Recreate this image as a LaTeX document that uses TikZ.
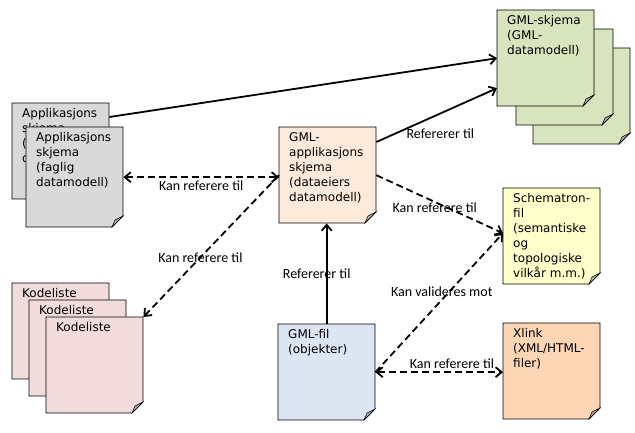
\documentclass[tikz,border=0pt]{standalone}
\usepackage{fontspec}
\setmainfont{DejaVu Sans}
\newfontfamily\lblfont{Carlito}
\usetikzlibrary{arrows.meta,calc}

\definecolor{appgray}{RGB}{217,217,217}
\definecolor{apppeach}{RGB}{253,234,218}
\definecolor{gmlgreen}{RGB}{215,228,189}
\definecolor{schemyellow}{RGB}{255,255,204}
\definecolor{kodepink}{RGB}{242,220,219}
\definecolor{filblue}{RGB}{220,230,242}
\definecolor{xlinkorange}{RGB}{252,213,181}

\tikzset{
  >={Straight Barb[length=6pt,width=10pt]},
  noteline/.style={draw=black, line width=0.8pt},
  notetext/.style={anchor=north west, inner xsep=10pt, inner ysep=5pt, minimum width=97pt, font=\fontsize{12}{15}\selectfont},
  refline/.style={line width=1.8pt, ->},
  maybe/.style={line width=1.8pt, dash pattern=on 7pt off 4pt},
  lbl/.style={font=\lblfont\fontsize{14}{15}\selectfont, inner sep=1pt},
}

% note sheet with folded corner: name, top left, fill, height, text
\newcommand{\docnote}[5]{%
  \draw[noteline, fill=#3] (#2) -- ++(97,0) -- ++(0,-#4+11) -- ++(-11,-11) -- ++(-86,0) -- cycle;
  \filldraw[noteline, line width=0.5pt, fill=#3!45!gray] ($(#2)+(86,-#4)$) .. controls ($(#2)+(88,-#4+4)$) .. ($(#2)+(89,-#4+7)$) -- ($(#2)+(97,-#4+11)$) -- cycle;
  \node[notetext, minimum height=#4pt] (#1) at (#2) {\parbox[t][\dimexpr#4pt-10pt\relax][t]{77pt}{\raggedright #5}};
}

\begin{document}
\begin{tikzpicture}[x=1pt,y=1pt]
        \useasboundingbox (0,0) rectangle (635,433);
        % Applikasjonsskjema
        \docnote{appB}{12,330}{appgray}{96}{Applikasjons\\skjema\\(faglig\\datamodell)}
        \docnote{appF}{26,306}{appgray}{100}{Applikasjons\\skjema\\(faglig\\datamodell)}
        % GML-applikasjonsskjema
        \docnote{gmlapp}{279,306}{apppeach}{96}{GML-\\applikasjons\\skjema\\(dataeiers\\datamodell)}
        % GML-skjema (stack)
        \docnote{gmlC}{533,385}{gmlgreen}{96}{}
        \docnote{gmlB}{516,404}{gmlgreen}{96}{}
        \docnote{gmlA}{497,423}{gmlgreen}{96}{GML-skjema\\(GML-\\datamodell)}
        % Schematron
        \docnote{schem}{503,245}{schemyellow}{96}{Schematron-\\fil\\(semantiske\\og\\topologiske\\vilkår m.m.)}
        % Kodelister
        \docnote{kodeA}{12,150}{kodepink}{96}{Kodeliste}
        \docnote{kodeB}{29,133}{kodepink}{96}{Kodeliste}
        \docnote{kodeC}{46,116}{kodepink}{96}{Kodeliste}
        % GML-fil and Xlink
        \docnote{gmlfil}{278,109}{filblue}{96}{GML-fil\\(objekter)}
        \docnote{xlink}{503,110}{xlinkorange}{96}{Xlink\\(XML/HTML-\\filer)}
        % solid references
        \draw[refline] ([yshift=-14pt]appB.north east) -- (gmlA.west);
        \draw[refline] ([yshift=-15pt]gmlapp.north east) -- ([yshift=-30pt]gmlA.west)
            node[lbl, pos=0.53, yshift=-20pt] {Refererer til};
        \draw[refline] (gmlfil.north) -- (gmlfil.north |- gmlapp.south)
            node[lbl, midway, xshift=-10pt] {Refererer til};
        % dashed references
        \draw[maybe, <->] (appF.east) -- (appF.east -| gmlapp.west)
            node[lbl, midway, yshift=-8pt] {Kan referere til};
        \draw[maybe, ->] (gmlapp.west) -- (kodeC.north east)
            node[lbl, pos=0.58] {Kan referere til};
        \draw[maybe, ->] (gmlapp.east) -- ([yshift=3pt]schem.west)
            node[lbl, pos=0.46, yshift=-6pt] {Kan referere til};
        \draw[maybe, ->] (gmlfil.east) -- ([yshift=3pt]schem.west)
            node[lbl, pos=0.52, yshift=8pt] {Kan valideres mot};
        \draw[maybe, <->] (gmlfil.east) -- (gmlfil.east -| xlink.west)
            node[lbl, pos=0.6, yshift=9pt] {Kan referere til};
\end{tikzpicture}
\end{document}
